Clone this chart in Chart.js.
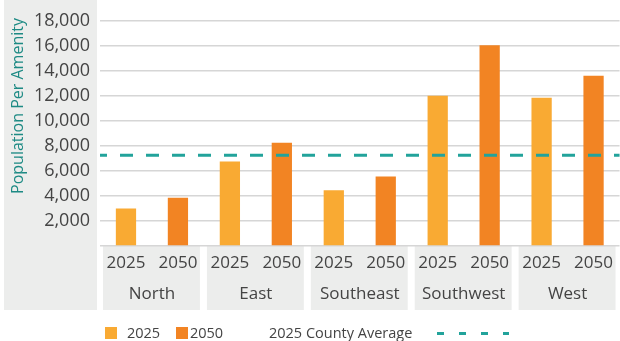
<!DOCTYPE html>
<html>
<head>
<meta charset="utf-8">
<script src="https://cdn.jsdelivr.net/npm/chart.js@4/dist/chart.umd.min.js"></script>
<style>
body { margin: 0; background: #fff; font-family: "Open Sans", sans-serif; }
#wrap { position: relative; width: 620px; height: 341px; }
.lg { position: absolute; top: 323px; font-size: 14.5px; color: #444; line-height: 20px; }
.sw { position: absolute; top: 327px; width: 12px; height: 12px; }
.dash { position: absolute; top: 332px; left: 437px; width: 72px; height: 3px;
  background: repeating-linear-gradient(90deg, #22a39b 0 7px, transparent 7px 22px); }
</style>
</head>
<body>
<div id="wrap">
  <canvas id="chart" width="620" height="341"></canvas>
  <div class="sw" style="left:105px;background:#f9aa33"></div>
  <div class="lg" style="left:127px">2025</div>
  <div class="sw" style="left:176px;background:#f28423"></div>
  <div class="lg" style="left:190px">2050</div>
  <div class="lg" style="left:269px">2025 County Average</div>
  <div class="dash"></div>
</div>
<script>
const regions = ['North', 'East', 'Southeast', 'Southwest', 'West'];
const years = ['2025', '2050'];
const pop2025 = [3000, 6750, 4450, 12000, 11850];
const pop2050 = [3850, 8250, 5550, 16050, 13600];
const countyAverage2025 = 7250;
const yMax = 18000;
const yStep = 2000;

const color2025 = '#f9aa33';
const color2050 = '#f28423';
const colorTeal = '#22a39b';
const textColor = '#444';
const panelGrey = '#ecedec';

// grey panels behind the y labels and under each region group
const panels = {
    id: 'panels',
    beforeDraw(chart) {
        const { ctx, chartArea } = chart;
        const x = chart.scales.x;
        const step = chartArea.width / regions.length;
        ctx.save();
        ctx.fillStyle = panelGrey;
        ctx.fillRect(4, 0, chartArea.left - 7, 310);
        regions.forEach((r, i) => {
            const c = x.getPixelForValue(i);
            ctx.fillRect(c - step / 2 + 3, chartArea.bottom, step - 7, 310 - chartArea.bottom);
        });
        // y axis title
        ctx.translate(18, 106);
        ctx.rotate(-Math.PI / 2);
        ctx.fillStyle = '#1d8a84';
        ctx.font = '16px "Open Sans"';
        ctx.textAlign = 'center';
        ctx.textBaseline = 'middle';
        ctx.fillText('Population Per Amenity', 0, 0);
        ctx.restore();
    },
};

// dashed county average line across the whole plot
const averageLine = {
    id: 'averageLine',
    afterDatasetsDraw(chart) {
        const { ctx, chartArea } = chart;
        const y = chart.scales.y.getPixelForValue(countyAverage2025);
        ctx.save();
        ctx.strokeStyle = colorTeal;
        ctx.lineWidth = 3;
        ctx.setLineDash([13, 13]);
        ctx.lineDashOffset = 6;
        ctx.beginPath();
        ctx.moveTo(chartArea.left, y);
        ctx.lineTo(chartArea.right, y);
        ctx.stroke();
        ctx.restore();
    },
};

new Chart(document.getElementById('chart'), {
    type: 'bar',
    data: {
        labels: regions,
        datasets: [
            { label: '2025', data: pop2025, backgroundColor: color2025, xAxisID: 'x', yAxisID: 'y' },
            { label: '2050', data: pop2050, backgroundColor: color2050, xAxisID: 'x', yAxisID: 'y' },
        ],
    },
    options: {
        responsive: false,
        animation: false,
        layout: { padding: { top: 8, right: 0, left: 0, bottom: 37 } },
        datasets: { bar: { categoryPercentage: 1, barPercentage: 0.39 } },
        plugins: { legend: { display: false }, tooltip: { enabled: false } },
        scales: {
            y: {
                min: 0,
                max: yMax,
                afterFit: (s) => { s.width = 100; },
                border: { display: false },
                grid: { color: '#d6d6d6', lineWidth: 1.5, drawTicks: false },
                ticks: {
                    stepSize: yStep,
                    autoSkip: false,
                    padding: 10,
                    color: textColor,
                    font: { family: 'Open Sans', size: 18 },
                    callback: (v) => (v === 0 ? '' : v.toLocaleString('en-US')),
                },
            },
            xYear: {
                type: 'category',
                position: 'bottom',
                weight: 0,
                labels: regions.flatMap(() => years),
                offset: true,
                afterFit: (s) => { s.height = 27; },
                border: { display: false },
                grid: { display: false, drawTicks: false },
                ticks: { padding: 7, color: textColor, font: { family: 'Open Sans', size: 17 }, maxRotation: 0, autoSkip: false },
            },
            x: {
                position: 'bottom',
                weight: 1,
                offset: true,
                afterFit: (s) => { s.height = 31; },
                border: { display: false },
                grid: { display: false, drawTicks: false },
                ticks: { padding: 11, color: textColor, font: { family: 'Open Sans', size: 17 }, maxRotation: 0, autoSkip: false },
            },
        },
    },
    plugins: [panels, averageLine],
});
</script>
</body>
</html>
